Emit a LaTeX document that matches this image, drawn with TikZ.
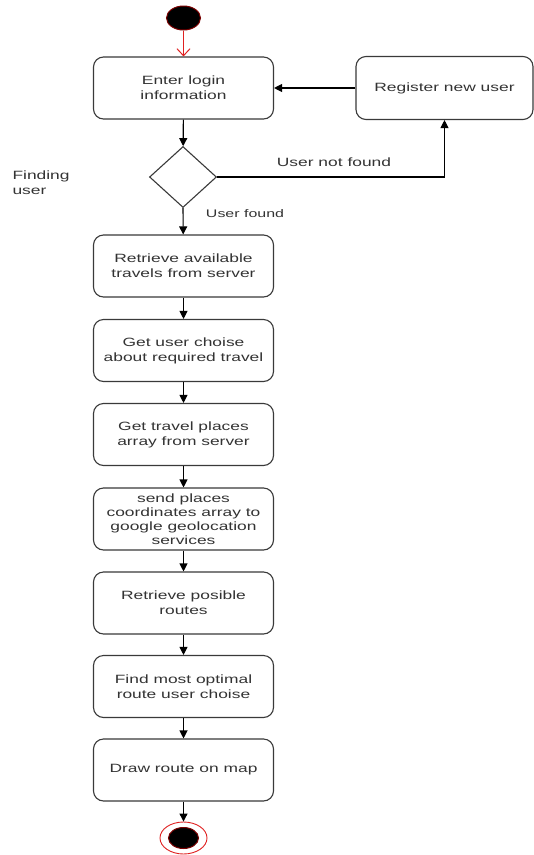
\documentclass[tikz,border=0pt]{standalone}
\usepackage{fontspec}
\setmainfont{Liberation Sans}[FakeStretch=1.45]
\usetikzlibrary{shapes.geometric,arrows.meta}
\definecolor{txt}{HTML}{333333}
\definecolor{edge}{HTML}{3A3A3A}
\definecolor{darkred}{HTML}{7A0000}
\definecolor{brightred}{HTML}{E02020}
\begin{document}
\begin{tikzpicture}[x=1pt,y=-1pt,
  every node/.style={text=txt, font=\fontsize{12}{15}\selectfont},
  action/.style={draw=edge, line width=1.1pt, rounded corners=10pt, fill=white,
    minimum width=180pt, minimum height=62pt, align=center, inner sep=2pt},
  decision/.style={draw=edge, line width=1.1pt, diamond, fill=white,
    minimum width=67pt, minimum height=61pt, inner sep=0pt},
  flow/.style={draw=black, line width=1.1pt, -{Triangle[length=8pt,width=8pt]}},
  startflow/.style={draw=brightred, line width=1pt, -{Straight Barb[length=7pt,width=13pt]}},
  label/.style={font=\fontsize{12}{15}\selectfont, align=left}]
  \useasboundingbox (0,0) rectangle (534,855);
  \fill[white] (0,0) rectangle (534,855);

  % initial state
  \node[ellipse, fill=black, draw=darkred, line width=1pt,
        minimum width=34pt, minimum height=24pt, inner sep=0pt] (start) at (183.5,18) {};

  % login and registration
  \node[action] (login) at (183.5,88) {Enter login\\information};
  \node[action, minimum width=177pt, minimum height=63pt] (register) at (444.5,88) {Register new user};

  % user lookup
  \node[decision] (find) at (183,177) {};
  \node[label, anchor=west] (findlbl) at (9,183) {Finding\\user};

  % main sequence
  \node[action] (travels) at (183.5,266) {Retrieve available\\travels from server};
  \node[action] (choice) at (183.5,350.5) {Get user choise\\about required travel};
  \node[action] (places) at (183.5,434.5) {Get travel places\\array from server};
  \node[action, font=\fontsize{12}{14}\selectfont] (geo) at (183.5,519) {send places\\coordinates array to\\google geolocation\\services};
  \node[action] (routes) at (183.5,603) {Retrieve posible\\routes};
  \node[action] (optimal) at (183.5,686.5) {Find most optimal\\route user choise};
  \node[action] (drawmap) at (183.5,770) {Draw route on map};

  % final state
  \node[ellipse, draw=brightred, line width=0.9pt, fill=white,
        minimum width=47pt, minimum height=32pt, inner sep=0pt] (final) at (183.5,838) {};
  \node[ellipse, fill=black, draw=darkred, line width=1pt,
        minimum width=30pt, minimum height=21pt, inner sep=0pt] (finalcore) at (183.5,838) {};

  % connectors
  \draw[startflow] (start) -- (login);
  \draw[flow] (register) -- (login);
  \draw[flow] (login) -- (find);
  \draw[flow] (find.east) -| (register.south);
  \draw[flow] (find.south) -- (travels);
  \draw[flow] (travels) -- (choice);
  \draw[flow] (choice) -- (places);
  \draw[flow] (places) -- (geo);
  \draw[flow] (geo) -- (routes);
  \draw[flow] (routes) -- (optimal);
  \draw[flow] (optimal) -- (drawmap);
  \draw[flow] (drawmap) -- (final);

  % guard labels
  \node (notfound) at (334,162) {User not found};
  \node[font=\fontsize{11}{13}\selectfont] (found) at (245,214) {User found};
\end{tikzpicture}
\end{document}
